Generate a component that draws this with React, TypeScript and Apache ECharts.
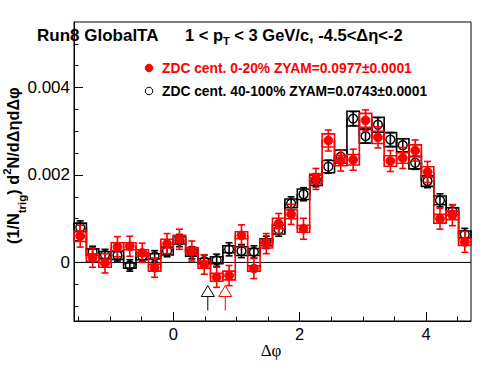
import React, { useEffect, useRef } from 'react';
import * as echarts from 'echarts';

const PI = Math.PI;
const NBINS = 32;
const BIN_W = (2 * PI) / NBINS;
// bin centres of the Δφ histogram (-π/2 .. 3π/2, 32 bins)
const dPhi: number[] = Array.from({ length: NBINS }, (_, i) => -PI / 2 + (i + 0.5) * BIN_W);

// ZDC cent. 0-20% (red, filled)
const centralY: number[] = [
  0.00060, 0.00011, -0.00002, 0.00036, 0.00037, 0.00022, -0.00012, 0.00043,
  0.00053, 0.00026, -0.00005, -0.00034, -0.00030, 0.00062, -0.00014, 0.00043,
  0.00089, 0.00110, 0.00077, 0.00191, 0.00279, 0.00233, 0.00235, 0.00325,
  0.00286, 0.00232, 0.00239, 0.00256, 0.00207, 0.00100, 0.00108, 0.00047,
];
const centralStat: number[] = [
  0.00025, 0.00022, 0.00022, 0.00023, 0.00023, 0.00022, 0.00022, 0.00023,
  0.00023, 0.00023, 0.00022, 0.00023, 0.00023, 0.00024, 0.00023, 0.00023,
  0.00023, 0.00023, 0.00024, 0.00024, 0.00024, 0.00024, 0.00024, 0.00024,
  0.00024, 0.00024, 0.00024, 0.00024, 0.00024, 0.00024, 0.00024, 0.00024,
];
const centralSys: number[] = [
  0.00012, 0.00008, 0.00009, 0.00009, 0.00008, 0.00007, 0.00008, 0.00010,
  0.00009, 0.00008, 0.00008, 0.00009, 0.00010, 0.00008, 0.00006, 0.00010,
  0.00012, 0.00010, 0.00008, 0.00011, 0.00015, 0.00012, 0.00012, 0.00016,
  0.00014, 0.00012, 0.00012, 0.00013, 0.00012, 0.00010, 0.00010, 0.00008,
];

// ZDC cent. 40-100% (black, open)
const peripheralY: number[] = [
  0.00080, 0.00024, 0.00017, 0.00016, -0.00007, 0.00014, 0.00014, 0.00026,
  0.00050, 0.00022, 0.00003, 0.00005, 0.00030, 0.00026, 0.00024, 0.00046,
  0.00075, 0.00135, 0.00156, 0.00188, 0.00219, 0.00242, 0.00329, 0.00289,
  0.00315, 0.00281, 0.00268, 0.00228, 0.00186, 0.00142, 0.00117, 0.00064,
];
const peripheralStat: number[] = [
  0.00015, 0.00013, 0.00013, 0.00013, 0.00013, 0.00013, 0.00013, 0.00013,
  0.00014, 0.00014, 0.00014, 0.00014, 0.00015, 0.00015, 0.00014, 0.00014,
  0.00015, 0.00015, 0.00015, 0.00015, 0.00015, 0.00015, 0.00016, 0.00016,
  0.00016, 0.00016, 0.00015, 0.00015, 0.00015, 0.00015, 0.00015, 0.00014,
];
const peripheralSys: number[] = [
  0.00010, 0.00007, 0.00008, 0.00009, 0.00006, 0.00008, 0.00006, 0.00009,
  0.00008, 0.00008, 0.00006, 0.00008, 0.00008, 0.00010, 0.00008, 0.00008,
  0.00010, 0.00010, 0.00012, 0.00012, 0.00014, 0.00015, 0.00017, 0.00016,
  0.00017, 0.00016, 0.00015, 0.00014, 0.00012, 0.00010, 0.00008, 0.00008,
];

// ZYAM minimum positions (arrows)
const zyamArrowX: number[] = [0.547, 0.823];
const zyamArrowColors: string[] = ['#000000', '#ff0000'];
const arrowTip = -0.00053;
const arrowBase = -0.00078;
const arrowEnd = -0.00110;

const xMajor: number[] = [0, 2, 4];
const xMinor: number[] = [-1.5, -1, -0.5, 0.5, 1, 1.5, 2.5, 3, 3.5, 4.5];
const yMajor: number[] = [0, 0.002, 0.004];
const yMinor: number[] = [-0.001, -0.0005, 0.0005, 0.001, 0.0015, 0.0025, 0.003, 0.0035, 0.0045, 0.005];

const X_MIN = -PI / 2;
const X_MAX = (3 * PI) / 2;
const Y_MIN = -0.00134;
const Y_MAX = 0.0055;

const SANS = 'Liberation Sans';

function buildRows(y: number[], stat: number[], sys: number[]) {
  return y.map((v, i) => [dPhi[i], v, sys[i], stat[i], i + 1 < y.length ? y[i + 1] : v]);
}

function makeRender(color: string, filled: boolean) {
  return (params: any, api: any) => {
    const x = api.value(0);
    const v = api.value(1);
    const s = api.value(2);
    const e = api.value(3);
    const vn = api.value(4);
    const tl = api.coord([x - BIN_W / 2, v + s]);
    const br = api.coord([x + BIN_W / 2, v - s]);
    const c = api.coord([x, v]);
    const eh = api.coord([x, v + e]);
    const el = api.coord([x, v - e]);
    const cn = api.coord([x + BIN_W / 2, vn]);
    const lw = 1.6;
    const children: any[] = [
      {
        type: 'rect',
        shape: { x: tl[0], y: tl[1], width: br[0] - tl[0], height: br[1] - tl[1] },
        style: { fill: 'none', stroke: color, lineWidth: lw },
      },
      {
        type: 'line',
        shape: { x1: br[0], y1: c[1], x2: br[0], y2: cn[1] },
        style: { stroke: color, lineWidth: lw },
      },
      {
        type: 'line',
        shape: { x1: c[0], y1: eh[1], x2: c[0], y2: el[1] },
        style: { stroke: color, lineWidth: lw },
      },
      {
        type: 'line',
        shape: { x1: c[0] - 3.5, y1: eh[1], x2: c[0] + 3.5, y2: eh[1] },
        style: { stroke: color, lineWidth: lw },
      },
      {
        type: 'line',
        shape: { x1: c[0] - 3.5, y1: el[1], x2: c[0] + 3.5, y2: el[1] },
        style: { stroke: color, lineWidth: lw },
      },
      {
        type: 'circle',
        shape: { cx: c[0], cy: c[1], r: 4.4 },
        style: filled
          ? { fill: color, stroke: color, lineWidth: 1 }
          : { fill: 'none', stroke: color, lineWidth: 1.4 },
      },
    ];
    return { type: 'group', children };
  };
}

function arrowRender(params: any, api: any) {
  const x = api.value(0);
  const idx = api.value(1);
  const color = zyamArrowColors[idx];
  const tip = api.coord([x, arrowTip]);
  const base = api.coord([x, arrowBase]);
  const end = api.coord([x, arrowEnd]);
  const hw = 6.5;
  return {
    type: 'group',
    children: [
      {
        type: 'line',
        shape: { x1: base[0], y1: base[1], x2: end[0], y2: end[1] },
        style: { stroke: color, lineWidth: 1 },
      },
      {
        type: 'polygon',
        shape: { points: [[tip[0], tip[1]], [tip[0] - hw, base[1]], [tip[0] + hw, base[1]]] },
        style: { fill: '#ffffff', stroke: color, lineWidth: 1 },
      },
    ],
  };
}

type Part = { text: string; size: number; dy: number; weight?: string };

function composeParts(parts: Part[], x0: number, y0: number, color: string) {
  const cv = document.createElement('canvas');
  const ctx = cv.getContext('2d') as CanvasRenderingContext2D;
  let x = x0;
  const out: any[] = [];
  for (const p of parts) {
    const w = p.weight || 'bold';
    const font = `${w} ${p.size}px "${SANS}"`;
    ctx.font = font;
    out.push({
      type: 'text',
      x,
      y: y0 + p.dy,
      style: {
        text: p.text,
        font,
        fill: color,
        align: 'left',
        verticalAlign: 'middle',
        textAlign: 'left',
        textVerticalAlign: 'middle',
      },
    });
    x += ctx.measureText(p.text).width;
  }
  return out;
}

export default function App() {
  const ref = useRef<HTMLDivElement>(null);
  useEffect(() => {
    if (!ref.current) return;
    const chart = echarts.init(ref.current, null, { renderer: 'svg' });

    const titleParts: Part[] = [
      { text: '1 < p', size: 16.5, dy: 0 },
      { text: 'T', size: 11, dy: 6 },
      { text: ' < 3 GeV/c, -4.5<Δη<-2', size: 16.5, dy: 0 },
    ];
    const yTitleParts: Part[] = [
      { text: '(1/N', size: 16.3, dy: 0 },
      { text: 'trig', size: 11.5, dy: 9 },
      { text: ') d', size: 16.3, dy: 0 },
      { text: '2', size: 11.5, dy: -6 },
      { text: 'N/dΔηdΔφ', size: 16.3, dy: 0 },
    ];

    const option: any = {
      animation: false,
      grid: {
        left: 74, top: 22, width: 397, height: 299,
        show: true, borderColor: '#000', borderWidth: 1, backgroundColor: 'transparent',
      },
      xAxis: [
        {
          type: 'value', min: X_MIN, max: X_MAX, position: 'bottom',
          axisLine: { show: true, onZero: false, lineStyle: { color: '#000', width: 1 } },
          axisTick: { show: true, inside: true, length: 9, customValues: xMajor, lineStyle: { color: '#000', width: 1 } },
          axisLabel: {
            show: true, customValues: xMajor, margin: 4, color: '#000', fontSize: 16.5, fontFamily: SANS,
            formatter: (v: number) => String(Math.round(v)),
          },
          splitLine: { show: false },
        },
        {
          type: 'value', min: X_MIN, max: X_MAX, position: 'bottom',
          axisLine: { show: false, onZero: false },
          axisTick: { show: true, inside: true, length: 4.5, customValues: xMinor, lineStyle: { color: '#000', width: 1 } },
          axisLabel: { show: false },
          splitLine: { show: false },
        },
      ],
      yAxis: [
        {
          type: 'value', min: Y_MIN, max: Y_MAX, position: 'left',
          axisLine: { show: true, onZero: false, lineStyle: { color: '#000', width: 1 } },
          axisTick: { show: true, inside: true, length: 9, customValues: yMajor, lineStyle: { color: '#000', width: 1 } },
          axisLabel: {
            show: true, customValues: yMajor, margin: 4, color: '#000', fontSize: 17, fontFamily: SANS,
            formatter: (v: number) => (Math.abs(v) < 1e-9 ? '0' : v.toFixed(3)),
          },
          splitLine: { show: false },
        },
        {
          type: 'value', min: Y_MIN, max: Y_MAX, position: 'left',
          axisLine: { show: false, onZero: false },
          axisTick: { show: true, inside: true, length: 4.5, customValues: yMinor, lineStyle: { color: '#000', width: 1 } },
          axisLabel: { show: false },
          splitLine: { show: false },
        },
      ],
      series: [
        {
          type: 'line',
          xAxisIndex: 0, yAxisIndex: 0,
          data: [[X_MIN, 0], [X_MAX, 0]],
          symbol: 'none',
          lineStyle: { color: '#000', width: 1 },
          silent: true,
          z: 1,
        },
        {
          type: 'custom',
          xAxisIndex: 0, yAxisIndex: 0,
          data: buildRows(peripheralY, peripheralStat, peripheralSys),
          renderItem: makeRender('#000000', false),
          encode: { x: 0, y: 1 },
          clip: false,
          z: 2,
        },
        {
          type: 'custom',
          xAxisIndex: 0, yAxisIndex: 0,
          data: buildRows(centralY, centralStat, centralSys),
          renderItem: makeRender('#ff0000', true),
          encode: { x: 0, y: 1 },
          clip: false,
          z: 3,
        },
        {
          type: 'custom',
          xAxisIndex: 0, yAxisIndex: 0,
          data: zyamArrowX.map((x, i) => [x, i]),
          renderItem: arrowRender,
          encode: { x: 0 },
          clip: false,
          z: 4,
        },
      ],
      graphic: [
        {
          type: 'text', x: 37, y: 35,
          style: { text: 'Run8 GlobalTA', font: `bold 17px "${SANS}"`, fill: '#000', align: 'left', verticalAlign: 'middle', textAlign: 'left', textVerticalAlign: 'middle' },
        },
        ...composeParts(titleParts, 185, 35, '#000'),
        { type: 'circle', shape: { cx: 149, cy: 68, r: 3.8 }, style: { fill: '#ff0000', stroke: '#ff0000' } },
        {
          type: 'text', x: 162, y: 68,
          style: { text: 'ZDC cent. 0-20% ZYAM=0.0977±0.0001', font: `bold 13.8px "${SANS}"`, fill: '#ff0000', align: 'left', verticalAlign: 'middle', textAlign: 'left', textVerticalAlign: 'middle' },
        },
        { type: 'circle', shape: { cx: 149, cy: 91, r: 3.8 }, style: { fill: 'none', stroke: '#000', lineWidth: 1 } },
        {
          type: 'text', x: 162, y: 91,
          style: { text: 'ZDC cent. 40-100% ZYAM=0.0743±0.0001', font: `bold 13.8px "${SANS}"`, fill: '#000', align: 'left', verticalAlign: 'middle', textAlign: 'left', textVerticalAlign: 'middle' },
        },
        {
          type: 'group', x: 13, y: 244, rotation: PI / 2,
          children: composeParts(yTitleParts, 0, 0, '#000'),
        },
        {
          type: 'text', x: 271, y: 350,
          style: { text: 'Δφ', font: '17px "Liberation Serif"', fill: '#000', align: 'center', verticalAlign: 'middle', textAlign: 'center', textVerticalAlign: 'middle' },
        },
      ],
    };
    chart.setOption(option);
    return () => chart.dispose();
  }, []);
  return <div ref={ref} style={{ width: 496, height: 374, position: 'absolute', left: 0, top: 0 }} />;
}
